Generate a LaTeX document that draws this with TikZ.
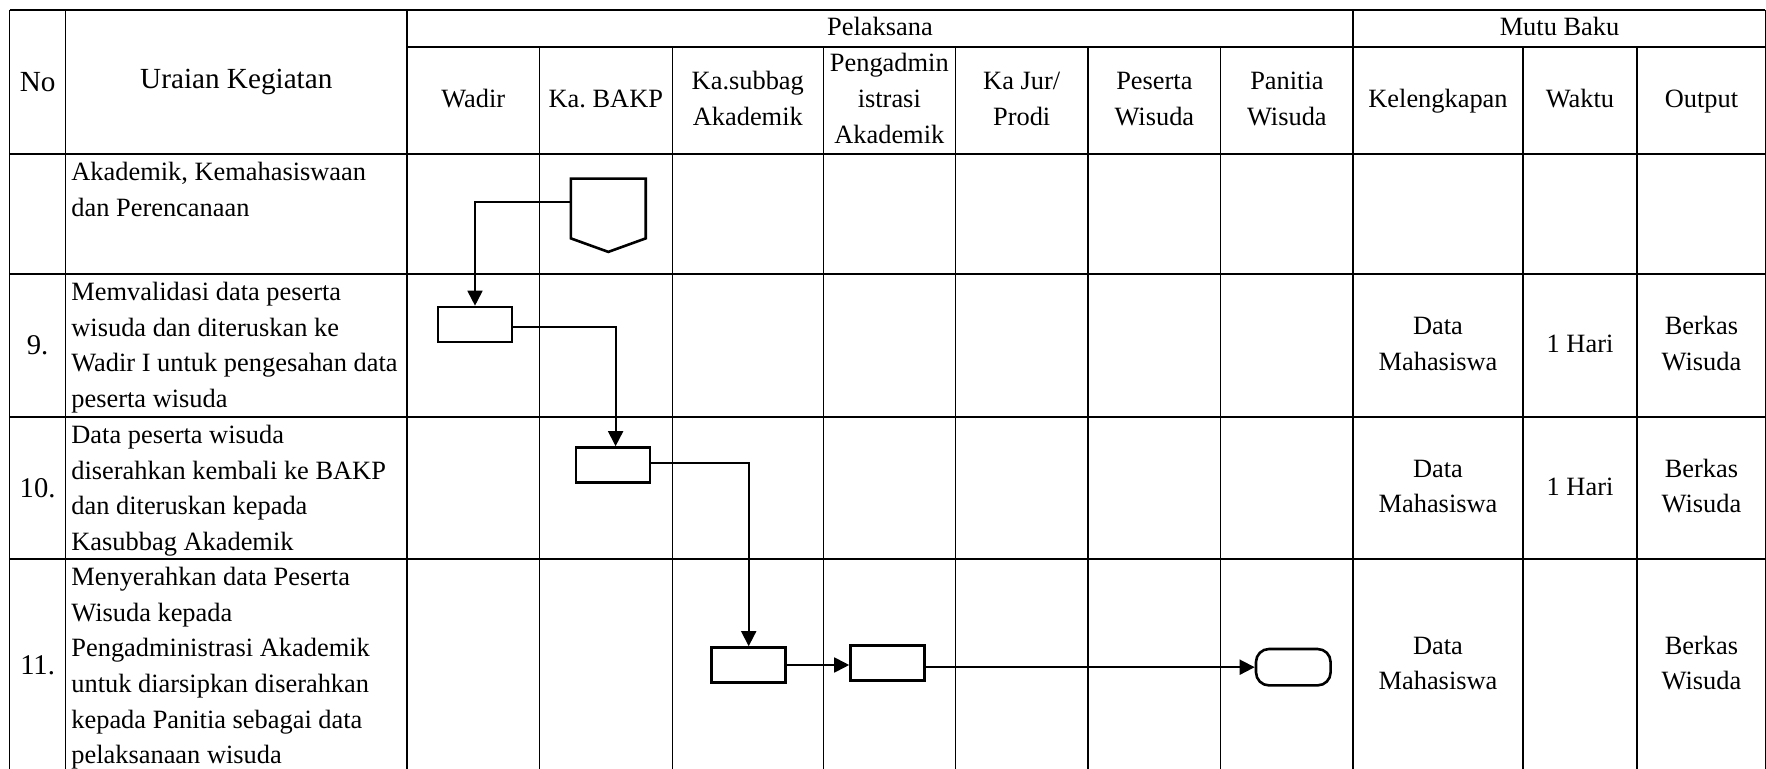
\documentclass[tikz,border=0pt]{standalone}
\usepackage{fontspec}
\setmainfont{Liberation Serif}
\usetikzlibrary{arrows.meta,calc}
\newcommand{\firstlinestrut}{\rule{0pt}{13pt}}
\begin{document}
\begin{tikzpicture}[x=0.5pt,y=-0.5pt,
  tline/.style={line width=0.6pt},
  txt/.style={inner sep=0pt, font=\fontsize{13.2}{17.85}\selectfont},
  desc/.style={txt, anchor=north west, align=left},
  cell/.style={txt, anchor=center, align=center},
  big/.style={inner sep=0pt, anchor=center, font=\fontsize{14.6}{17.85}\selectfont},
  num/.style={inner sep=0pt, anchor=center, font=\fontsize{14.3}{17.85}\selectfont},
  proc/.style={draw, line width=1.3pt, minimum width=37pt, minimum height=17.5pt, inner sep=0pt},
  term/.style={draw, line width=1.3pt, minimum width=37.3pt, minimum height=18.2pt, inner sep=0pt, rounded corners=6.5pt},
  flow/.style={line width=0.9pt},
  arr/.style={flow, -{Triangle[length=7.5pt,width=7.5pt]}},
]
\useasboundingbox (0,0) rectangle (1766,769);

% table grid
\draw[tline] (9.5,10) -- (1765.4,10);
\draw[tline] (407,47) -- (1765.4,47);
\foreach \y in {154,274,417,559} \draw[tline] (9.5,\y) -- (1765.4,\y);
\foreach \x in {9.5,65.7,407,1353,1765.4} \draw[tline] (\x,10) -- (\x,769);
\foreach \x in {539.3,672.3,823.3,955.3,1088,1220.7,1523,1637} \draw[tline] (\x,47) -- (\x,769);

% header
\node[big] (hno) at (37.6,82) {No};
\node[big] (hur) at (236.3,82) {Uraian Kegiatan};
\node[cell] (hpel) at (880,28.5) {\strut Pelaksana\strut};
\node[cell] (hmutu) at (1559.5,28.5) {\strut Mutu Baku\strut};
\node[cell] (hwadir) at (473.2,100.5) {\strut Wadir\strut};
\node[cell] (hbakp) at (605.8,100.5) {\strut Ka.\ BAKP\strut};
\node[cell] (hsub) at (747.8,100.5) {\strut Ka.subbag\\Akademik\strut};
\node[cell] (hpeng) at (889.3,100.5) {\strut Pengadmin\\istrasi\\Akademik\strut};
\node[cell] (hjur) at (1021.7,100.5) {\strut Ka Jur/\\Prodi\strut};
\node[cell] (hpes) at (1154.4,100.5) {\strut Peserta\\Wisuda\strut};
\node[cell] (hpan) at (1286.9,100.5) {\strut Panitia\\Wisuda\strut};
\node[cell] (hkel) at (1438,100.5) {\strut Kelengkapan\strut};
\node[cell] (hwak) at (1580,100.5) {\strut Waktu\strut};
\node[cell] (hout) at (1701.5,100.5) {\strut Output\strut};

% numbers
\node[num] (n9) at (37.6,345.5) {9.};
\node[num] (n10) at (37.6,488) {10.};
\node[num] (n11) at (37.6,665) {11.};

% descriptions
\node[desc] (d0) at (71,154) {\firstlinestrut Akademik, Kemahasiswaan\\dan Perencanaan};
\node[desc] (d9) at (71,274) {\firstlinestrut Memvalidasi data peserta\\wisuda dan diteruskan ke\\Wadir I untuk pengesahan data\\peserta wisuda};
\node[desc] (d10) at (71,417) {\firstlinestrut Data peserta wisuda\\diserahkan kembali ke BAKP\\dan diteruskan kepada\\Kasubbag Akademik};
\node[desc] (d11) at (71,559) {\firstlinestrut Menyerahkan data Peserta\\Wisuda kepada\\Pengadministrasi Akademik\\untuk diarsipkan diserahkan\\kepada Panitia sebagai data\\pelaksanaan wisuda};

% mutu baku
\node[cell] (k9) at (1438,345.5) {\strut Data\\Mahasiswa\strut};
\node[cell] (w9) at (1580,345.5) {\strut 1 Hari\strut};
\node[cell] (o9) at (1701.5,345.5) {\strut Berkas\\Wisuda\strut};
\node[cell] (k10) at (1438,488) {\strut Data\\Mahasiswa\strut};
\node[cell] (w10) at (1580,488) {\strut 1 Hari\strut};
\node[cell] (o10) at (1701.5,488) {\strut Berkas\\Wisuda\strut};
\node[cell] (k11) at (1438,665) {\strut Data\\Mahasiswa\strut};
\node[cell] (o11) at (1701.5,665) {\strut Berkas\\Wisuda\strut};

% flowchart shapes
\node[minimum width=37pt, minimum height=29.5pt, inner sep=0pt] (conn) at (608.3,208.5) {};
\draw[line width=1.3pt, line join=miter] (conn.north west) -- (conn.north east) -- (conn.south east)
  -- ($(conn.south)+(0,13.5)$) -- (conn.south west) -- cycle;
\node[proc] (b9) at (475,324.5) {};
\node[proc] (b10) at (613,465) {};
\node[proc] (b11a) at (748.7,665) {};
\node[proc] (b11b) at (887.5,662.7) {};
\node[term] (tend) at (1293.3,667.2) {};

% connectors
\draw[arr] ([yshift=3.1pt]conn.west) -| (b9.north);
\draw[arr] ([yshift=-1.4pt]b9.east) -| ([xshift=1.3pt]b10.north);
\draw[arr] ([yshift=1.1pt]b10.east) -| (b11a.north);
\draw[arr] (b11a.east) -- (b11a.east -| b11b.west);
\draw[arr] (tend.west -| b11b.east) -- (tend.west);
\end{tikzpicture}
\end{document}
